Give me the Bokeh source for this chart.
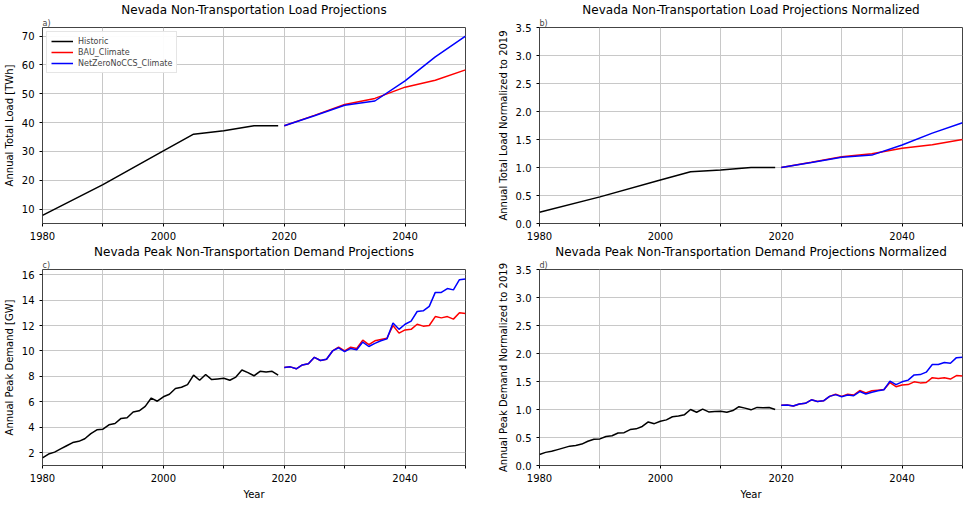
from bokeh.plotting import figure
from bokeh.layouts import gridplot
from bokeh.models import FixedTicker, Range1d, Legend, LegendItem, Title
from bokeh.embed import file_html
from bokeh.resources import INLINE

# annual total load [TWh]
hist_load_years = [1980, 1990, 2000, 2005, 2010, 2015, 2019]
hist_load = [7.8, 18.5, 30.2, 36.0, 37.2, 38.9, 38.9]
proj_load_years = [2020, 2025, 2030, 2035, 2040, 2045, 2050]
bau_load = [38.9, 42.5, 46.3, 48.4, 52.3, 54.7, 58.3]
nz_load = [38.9, 42.4, 46.0, 47.5, 54.5, 62.8, 70.0]

# annual peak demand [GW]
hist_peak_years = list(range(1980, 2020))
hist_peak = [1.6, 1.9, 2.05, 2.3, 2.55, 2.8, 2.9, 3.1, 3.5, 3.8,
             3.85, 4.2, 4.3, 4.7, 4.75, 5.2, 5.3, 5.65, 6.3, 6.05,
             6.4, 6.6, 7.05, 7.15, 7.35, 8.1, 7.7, 8.15, 7.75, 7.8,
             7.85, 7.7, 7.95, 8.5, 8.3, 8.05, 8.4, 8.35, 8.4, 8.1]
proj_peak_years = list(range(2020, 2051))
bau_peak = [8.7, 8.75, 8.6, 8.9, 9.0, 9.5, 9.25, 9.35, 10.0, 10.3,
            10.0, 10.3, 10.2, 10.85, 10.5, 10.8, 10.9, 11.0, 12.0, 11.4,
            11.65, 11.7, 12.1, 11.95, 12.0, 12.7, 12.6, 12.7, 12.5, 13.0, 12.95]
nz_peak = [8.7, 8.75, 8.6, 8.9, 9.0, 9.5, 9.25, 9.35, 10.0, 10.25,
           9.95, 10.2, 10.1, 10.7, 10.35, 10.6, 10.8, 10.95, 12.2, 11.7,
           12.1, 12.35, 13.1, 13.15, 13.5, 14.6, 14.6, 14.9, 14.8, 15.6, 15.65]

FONT = "DejaVu Sans"


def norm(vals, base):
    return [v / base for v in vals]


def make_panel(tag, title, ylabel, yrange, yticks, series, xlabel=None, legend=False,
               fmt=None):
    p = figure(frame_width=423, frame_height=196, output_backend="svg",
               toolbar_location=None, x_range=Range1d(1980, 2050),
               y_range=Range1d(*yrange), min_border_right=6,
               min_border_top=2, min_border_bottom=2)
    p.title.text = title
    p.title.align = "center"
    p.title.text_font = FONT
    p.title.text_font_size = "12px"
    p.title.text_font_style = "normal"
    p.title.text_color = "black"
    p.title.standoff = 0
    p.add_layout(Title(text=tag, align="left", text_font=FONT, text_font_size="8px",
                       text_font_style="normal", standoff=0), "above")
    p.outline_line_color = "#444444"
    p.xaxis.ticker = FixedTicker(ticks=list(range(1980, 2051, 10)))
    p.xaxis.major_label_overrides = {1990: "", 2010: "", 2030: "", 2050: ""}
    p.yaxis.ticker = FixedTicker(ticks=yticks)
    if fmt:
        p.yaxis.major_label_overrides = fmt
    for ax in (p.xaxis, p.yaxis):
        ax.major_label_text_font = FONT
        ax.major_label_text_font_size = "10px"
        ax.major_label_text_color = "black"
        ax.axis_label_text_font = FONT
        ax.axis_label_text_font_size = "10px"
        ax.axis_label_text_font_style = "normal"
        ax.axis_label_text_color = "black"
        ax.axis_label_standoff = 4
        ax.minor_tick_line_color = None
        ax.axis_line_color = None
        ax.major_tick_in = 0
        ax.major_tick_out = 3
    p.yaxis.axis_label = ylabel
    if xlabel:
        p.xaxis.axis_label = xlabel
    p.grid.grid_line_color = "#c8c8c8"
    p.grid.grid_line_alpha = 1.0
    items = []
    for name, xs, ys, col in series:
        r = p.line(xs, ys, line_color=col, line_width=1.5)
        items.append(LegendItem(label=name, renderers=[r]))
    if legend:
        lg = Legend(items=items, location="top_left", label_text_font=FONT,
                    label_text_font_size="8px", glyph_height=10, glyph_width=22,
                    label_height=10, spacing=1, padding=4, margin=4,
                    border_line_color="#cccccc")
        p.add_layout(lg)
    return p


norm_ticks = [0, 0.5, 1, 1.5, 2, 2.5, 3, 3.5]
norm_fmt = {t: "%.1f" % t for t in norm_ticks}

pa = make_panel("a)", "Nevada Non-Transportation Load Projections", "Annual Total Load [TWh]",
                (5, 73), [10, 20, 30, 40, 50, 60, 70],
                [("Historic", hist_load_years, hist_load, "black"),
                 ("BAU_Climate", proj_load_years, bau_load, "red"),
                 ("NetZeroNoCCS_Climate", proj_load_years, nz_load, "blue")], legend=True)
base_l = hist_load[-1]
pb = make_panel("b)", "Nevada Non-Transportation Load Projections Normalized",
                "Annual Total Load Normalized to 2019", (0, 3.5), norm_ticks,
                [("Historic", hist_load_years, norm(hist_load, base_l), "black"),
                 ("BAU_Climate", proj_load_years, norm(bau_load, base_l), "red"),
                 ("NetZeroNoCCS_Climate", proj_load_years, norm(nz_load, base_l), "blue")],
                fmt=norm_fmt)
pc = make_panel("c)", "Nevada Peak Non-Transportation Demand Projections", "Annual Peak Demand [GW]",
                (1, 16.4), [2, 4, 6, 8, 10, 12, 14, 16],
                [("Historic", hist_peak_years, hist_peak, "black"),
                 ("BAU_Climate", proj_peak_years, bau_peak, "red"),
                 ("NetZeroNoCCS_Climate", proj_peak_years, nz_peak, "blue")], xlabel="Year")
base_p = hist_peak[-1]
pd_ = make_panel("d)", "Nevada Peak Non-Transportation Demand Projections Normalized",
                 "Annual Peak Demand Normalized to 2019", (0, 3.5), norm_ticks,
                 [("Historic", hist_peak_years, norm(hist_peak, base_p), "black"),
                  ("BAU_Climate", proj_peak_years, norm(bau_peak, base_p), "red"),
                  ("NetZeroNoCCS_Climate", proj_peak_years, norm(nz_peak, base_p), "blue")],
                 xlabel="Year", fmt=norm_fmt)

for p in (pa, pc):
    p.min_border_left = 27
for p in (pb, pd_):
    p.min_border_left = 68

p = gridplot([[pa, pb], [pc, pd_]], toolbar_location=None)
open("out.html", "w").write(file_html(p, INLINE))
